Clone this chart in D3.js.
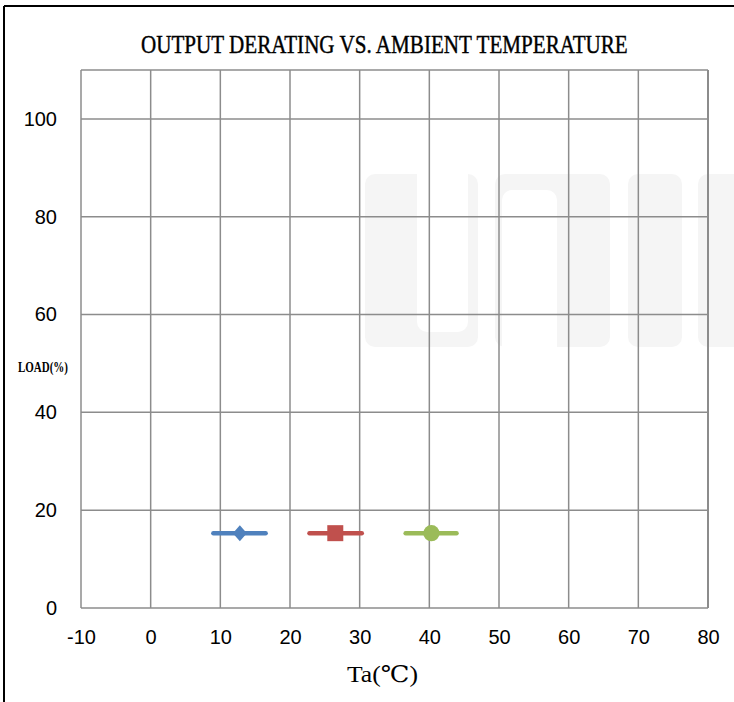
<!DOCTYPE html>
<html>
<head>
<meta charset="utf-8">
<script src="https://cdn.jsdelivr.net/npm/d3@7"></script>
<style>
  body { margin: 0; background: #fff; }
  svg { display: block; }
</style>
</head>
<body>
<div id="chart"></div>
<script>
'use strict';

// chart values
var titleText = 'OUTPUT DERATING VS. AMBIENT TEMPERATURE';
var xLabel = 'Ta(℃)';
var yLabel = 'LOAD(%)';
var xTicks = [-10, 0, 10, 20, 30, 40, 50, 60, 70, 80];
var yTicks = [0, 20, 40, 60, 80, 100];
var xDomain = [-10, 80];
var yDomain = [0, 110];

// three legend-style markers (no text) sitting inside the plot
var markerCenter = [12.8, 26.5, 40.3];
var markerStart = [9.0, 22.8, 36.6];
var markerEnd = [16.5, 30.3, 43.9];
var markerLoad = [15.3, 15.3, 15.3];

var width = 734,
    height = 702;
var margin = { left: 81, top: 70, right: 26, bottom: 94 };
var colors = ['#4f81bd', '#c0504d', '#9bbb59'];
var gridColor = '#8c8c8c';

var svg = d3.select('#chart').append('svg')
    .attr('width', width)
    .attr('height', height);

var xScale = d3.scaleLinear().domain(xDomain).range([margin.left, width - margin.right]);
var yScale = d3.scaleLinear().domain(yDomain).range([height - margin.bottom, margin.top]);

// faint watermark logo behind everything
var wm = svg.append('g').attr('class', 'watermark');
var wmFill = '#f5f5f5';
wm.append('rect').attr('x', 365).attr('y', 174).attr('width', 113).attr('height', 173).attr('rx', 10).attr('fill', wmFill);
wm.append('rect').attr('x', 417).attr('y', 160).attr('width', 51).attr('height', 172).attr('rx', 10).attr('fill', '#fff');
wm.append('rect').attr('x', 495).attr('y', 174).attr('width', 115).attr('height', 173).attr('rx', 10).attr('fill', wmFill);
wm.append('rect').attr('x', 502).attr('y', 190).attr('width', 55).attr('height', 170).attr('rx', 10).attr('fill', '#fff');
wm.append('rect').attr('x', 628).attr('y', 174).attr('width', 54).attr('height', 173).attr('rx', 10).attr('fill', wmFill);
wm.append('rect').attr('x', 698).attr('y', 174).attr('width', 60).attr('height', 173).attr('rx', 10).attr('fill', wmFill);

// frame: top and left edges only
svg.append('line').attr('x1', 4).attr('x2', width).attr('y1', 6).attr('y2', 6)
    .attr('stroke', '#000').attr('stroke-width', 2);
svg.append('line').attr('x1', 4).attr('x2', 4).attr('y1', 6).attr('y2', height)
    .attr('stroke', '#000').attr('stroke-width', 2);

// grid
var grid = svg.append('g').attr('class', 'grid');
grid.selectAll('.vline').data(xTicks).enter()
    .append('line')
    .attr('class', 'vline')
    .attr('x1', function (d) { return xScale(d); })
    .attr('x2', function (d) { return xScale(d); })
    .attr('y1', yScale(yDomain[1]))
    .attr('y2', yScale(yDomain[0]))
    .attr('stroke', gridColor)
    .attr('stroke-width', function (d) { return d === xDomain[1] ? 2 : 1.5; });
grid.selectAll('.hline').data(yTicks.concat([yDomain[1]])).enter()
    .append('line')
    .attr('class', 'hline')
    .attr('x1', xScale(xDomain[0]))
    .attr('x2', xScale(xDomain[1]))
    .attr('y1', function (d) { return yScale(d); })
    .attr('y2', function (d) { return yScale(d); })
    .attr('stroke', gridColor)
    .attr('stroke-width', 1.5);

// axes (labels only, lines are the grid)
var plainNum = function (d) { return String(d); };
var xAxis = d3.axisBottom(xScale).tickValues(xTicks).tickFormat(plainNum).tickSize(0).tickPadding(22);
var yAxis = d3.axisLeft(yScale).tickValues(yTicks).tickFormat(plainNum).tickSize(0).tickPadding(24);

var gx = svg.append('g')
    .attr('transform', 'translate(0,' + yScale(0) + ')')
    .call(xAxis);
var gy = svg.append('g')
    .attr('transform', 'translate(' + xScale(xDomain[0]) + ',0)')
    .call(yAxis);
[gx, gy].forEach(function (g) {
    g.select('.domain').remove();
    g.selectAll('text')
        .attr('fill', '#000')
        .style('font-family', '"Liberation Sans", Arial, sans-serif')
        .style('font-size', '20px');
});

// markers
var diamond = 'M0,-8L7,0L0,8L-7,0Z';
var marks = svg.append('g').attr('class', 'markers');
markerCenter.forEach(function (c, i) {
    marks.append('line')
        .attr('x1', xScale(markerStart[i]))
        .attr('x2', xScale(markerEnd[i]))
        .attr('y1', yScale(markerLoad[i]))
        .attr('y2', yScale(markerLoad[i]))
        .attr('stroke', colors[i])
        .attr('stroke-width', 4.5)
        .attr('stroke-linecap', 'round');
    var d = i === 0 ? diamond : d3.symbol().type(i === 1 ? d3.symbolSquare : d3.symbolCircle).size(i === 1 ? 256 : 210)();
    marks.append('path')
        .attr('d', d)
        .attr('transform', 'translate(' + xScale(c) + ',' + yScale(markerLoad[i]) + ')')
        .attr('fill', colors[i]);
});

// squeeze a text horizontally to a target width (condensed look of the original)
function fitText(sel, x, y, targetWidth) {
    var w = sel.node().getComputedTextLength();
    var k = targetWidth / w;
    sel.attr('transform', 'translate(' + x + ',' + y + ') scale(' + k + ',1)');
}

// title and axis titles
var serif = '"Liberation Serif", "DejaVu Serif", serif';
var title = svg.append('text')
    .style('font-family', serif)
    .style('font-size', '25px')
    .attr('stroke', '#000')
    .attr('stroke-width', 0.4)
    .text(titleText);
fitText(title, 141, 53, 487);

var xt = svg.append('text')
    .style('font-family', serif)
    .style('font-size', '23px')
    .text(xLabel);
fitText(xt, 347, 682, 71);

var yt = svg.append('text')
    .style('font-family', serif)
    .style('font-size', '15px')
    .style('font-weight', 'bold')
    .text(yLabel);
fitText(yt, 18, 372, 50);
</script>
</body>
</html>
